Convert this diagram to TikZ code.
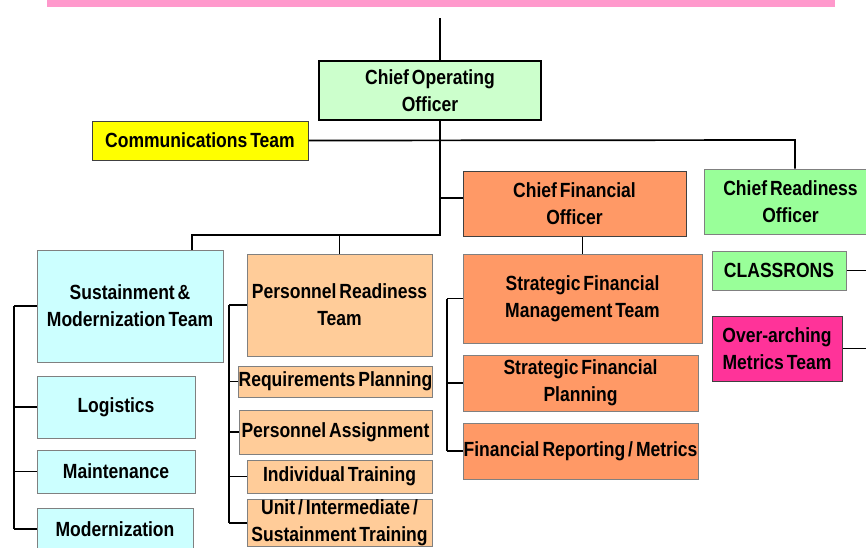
\documentclass[tikz,border=0pt]{standalone}
\usepackage{fontspec}
\newfontfamily\orgfont{Liberation Sans}[FakeStretch=0.855,WordSpace=0.6]

\definecolor{barPink}{HTML}{FF99CC}
\definecolor{cooGreen}{HTML}{CCFFCC}
\definecolor{croGreen}{HTML}{99FF99}
\definecolor{commYellow}{HTML}{FFFF00}
\definecolor{cfoOrange}{HTML}{FF9966}
\definecolor{prtPeach}{HTML}{FFCC99}
\definecolor{smtCyan}{HTML}{CCFFFF}
\definecolor{omtPink}{HTML}{FF3399}
\definecolor{boxGray}{HTML}{808080}
\definecolor{boxDark}{HTML}{404040}

\begin{document}
\begin{tikzpicture}[x=1pt,y=-1pt]

      \useasboundingbox (0,0) rectangle (866,547);
      \fill[barPink] (47,0) rectangle (835,7);

      \begin{scope}[every node/.style={rectangle,draw=boxGray,line width=1pt,inner sep=0pt,align=center,
          font=\orgfont\bfseries\fontsize{20.5}{27}\selectfont}]
        \node[fill=cooGreen,draw=black,line width=1.5pt,minimum width=222pt,minimum height=59pt] (coo) at (430,90.5) {Chief Operating\\Officer};
        \node[fill=commYellow,draw=boxDark,minimum width=216pt,minimum height=39pt] (comm) at (200,140.5) {Communications Team};
        \node[fill=cfoOrange,draw=boxDark,minimum width=223pt,minimum height=65pt] (cfo) at (574.5,203.5) {Chief Financial\\Officer};
        \node[fill=croGreen,minimum width=173pt,minimum height=65pt] (cro) at (790.5,201.5) {Chief Readiness\\Officer};

        \node[fill=smtCyan,minimum width=186pt,minimum height=112pt] (smt) at (130,306) {Sustainment \&\\Modernization Team};
        \node[fill=smtCyan,minimum width=158pt,minimum height=62pt] (log) at (116,407) {Logistics};
        \node[fill=smtCyan,minimum width=158pt,minimum height=43pt] (mnt) at (116,471.5) {Maintenance};
        \node[fill=smtCyan,minimum width=156pt,minimum height=42pt] (mod) at (115,529) {Modernization};

        \node[fill=prtPeach,minimum width=185pt,minimum height=102pt] (prt) at (339.5,305) {Personnel Readiness\\Team};
        \node[fill=prtPeach,minimum width=193pt,minimum height=31pt] (req) at (335.5,381.5) {Requirements Planning};
        \node[fill=prtPeach,minimum width=193pt,minimum height=44pt] (pa) at (335.5,432) {Personnel Assignment};
        \node[fill=prtPeach,minimum width=185pt,minimum height=33pt] (it) at (339.5,476.5) {Individual Training};
        \node[fill=prtPeach,minimum width=185pt,minimum height=42pt] (unit) at (339.5,523) {Unit / Intermediate /\\Sustainment Training};

        \node[fill=cfoOrange,minimum width=239pt,minimum height=89pt] (sfmt) at (582.5,298.5) {Strategic Financial\\Management Team};
        \node[fill=cfoOrange,minimum width=235pt,minimum height=56pt] (sfp) at (580.5,383) {Strategic Financial\\Planning};
        \node[fill=cfoOrange,minimum width=235pt,minimum height=56pt] (frm) at (580.5,451) {Financial Reporting / Metrics};

        \node[fill=croGreen,minimum width=134pt,minimum height=39pt] (cls) at (779,270.5) {CLASSRONS};
        \node[fill=omtPink,draw=boxDark,minimum width=130pt,minimum height=65pt] (omt) at (777,348.5) {Over-arching\\Metrics Team};
      \end{scope}

      \begin{scope}[line width=1.7pt]
        \coordinate (top) at (440,18);
        \coordinate (cooJoin) at (440,235);
        \coordinate (cfoJoin) at (440,198);
        \coordinate (croJoin) at (795,140);
        \coordinate (smtJoin) at (192,235);
        \coordinate (leftRail) at (14,0);
        \coordinate (prtRail) at (229,0);
        \coordinate (cfoRail) at (447,0);
        \coordinate (rightEdge) at (870,0);

        \draw (top) -- (top |- coo.north);
        \draw (top |- coo.south) -- (cooJoin) -- (smtJoin) -- (smtJoin |- smt.north);
        \draw (cooJoin -| prt.north) -- (prt.north);
        \draw (cfoJoin) -- (cfoJoin -| cfo.west);
        \draw (comm.east) -- (croJoin) -- (croJoin |- cro.north);
        \draw (sfmt.north |- cfo.south) -- (sfmt.north);

        \draw (leftRail |- smt.west) -- (leftRail |- mod.west);
        \foreach \n in {smt,log,mnt,mod} \draw (leftRail |- \n.west) -- (\n.west);
        \draw (prtRail |- prt.west) -- (prtRail |- unit.west);
        \foreach \n in {prt,req,pa,it,unit} \draw (prtRail |- \n.west) -- (\n.west);
        \draw (cfoRail |- sfmt.west) -- (cfoRail |- frm.west);
        \foreach \n in {sfmt,sfp,frm} \draw (cfoRail |- \n.west) -- (\n.west);

        \draw (cls.east) -- (cls.east -| rightEdge);
        \draw (omt.east) -- (omt.east -| rightEdge);
      \end{scope}

    \end{tikzpicture}
\end{document}
